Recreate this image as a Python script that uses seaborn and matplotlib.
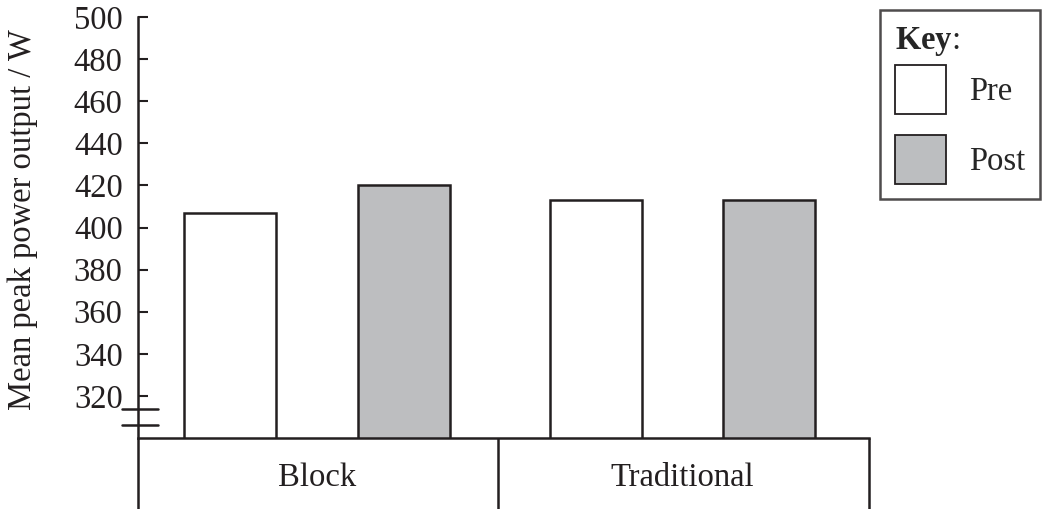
import pandas as pd
import matplotlib
matplotlib.use("Agg")
import matplotlib.pyplot as plt
import seaborn as sns
from matplotlib.patches import Patch

# data
groups = ["Block", "Block", "Traditional", "Traditional"]
phases = ["Pre", "Post", "Pre", "Post"]
power = [407, 420, 413, 413]
group_labels = ["Block", "Traditional"]
y_ticks = [320, 340, 360, 380, 400, 420, 440, 460, 480, 500]

ink = "#231f20"
grey = "#bcbec0"
fs = 23.5

sns.set_theme(style="white")
plt.rcParams["font.family"] = ["Liberation Serif", "DejaVu Serif"]
plt.rcParams["mathtext.fontset"] = "custom"
plt.rcParams["mathtext.rm"] = "Liberation Serif"
plt.rcParams["mathtext.bf"] = "Liberation Serif:bold"

df = pd.DataFrame({"group": groups, "phase": phases, "power": power})

fig = plt.figure(figsize=(10.54, 5.09), dpi=100)
ax = fig.add_axes([138 / 1054, 71 / 509, 731 / 1054, 421 / 509])

sns.barplot(data=df, x="group", y="power", hue="phase", order=group_labels,
            hue_order=["Pre", "Post"], palette={"Pre": "white", "Post": grey},
            edgecolor=ink, linewidth=1.8, width=0.95, gap=0.47,
            legend=False, ax=ax)

ax.set_ylim(300, 500)
ax.set_xlim(-0.49, 1.51)
ax.set_yticks(y_ticks)
ax.tick_params(axis="y", direction="in", length=7, width=1.5, color=ink,
               labelsize=fs, labelcolor=ink, pad=11, left=True)
ax.set_xticks([0, 1])
ax.set_xticklabels(group_labels)
ax.tick_params(axis="x", length=0, labelsize=fs, labelcolor=ink, pad=18)
ax.set_xlabel("")
ax.set_ylabel("Mean peak power output / W", fontsize=fs, color=ink)
ax.yaxis.set_label_coords(-0.137, 0.52)

for side in ["top", "right"]:
    ax.spines[side].set_visible(False)
for side in ["left", "bottom"]:
    ax.spines[side].set_color(ink)
    ax.spines[side].set_linewidth(1.8)

# table lines below the baseline
trans = ax.get_xaxis_transform()
for xv in [-0.49, 0.494, 1.51]:
    ax.plot([xv, xv], [0, -0.17], transform=trans, color=ink, lw=1.8,
            clip_on=False, solid_capstyle="butt")

# axis break marks
btrans = ax.get_yaxis_transform()
for yv in [306, 314]:
    ax.plot([-0.022, 0.027], [yv, yv], transform=btrans, color=ink, lw=1.8,
            clip_on=False)

handles = [Patch(facecolor="white", edgecolor=ink, linewidth=1.3),
           Patch(facecolor=grey, edgecolor=ink, linewidth=1.3)]
leg = fig.legend(handles, ["Pre", "Post"], title=r"$\mathbf{Key}$:",
                 loc="upper left", bbox_to_anchor=(880 / 1054, 1 - 10 / 509),
                 fontsize=fs, title_fontsize=fs, frameon=True, fancybox=False,
                 edgecolor=ink, handlelength=1.57, handleheight=1.96,
                 handletextpad=0.72, labelspacing=0.63, borderpad=0.45,
                 alignment="left", borderaxespad=0)
leg.get_frame().set_linewidth(1.8)
# tighter gap between the title and the first entry
leg._legend_box.sep = 5

fig.savefig("out.png", dpi=100)
